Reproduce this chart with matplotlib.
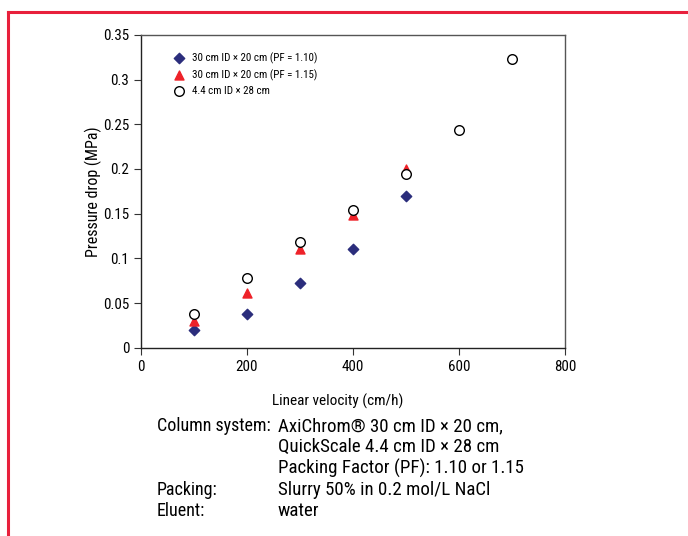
import numpy as np
import matplotlib.pyplot as plt
from matplotlib import font_manager
from matplotlib.lines import Line2D

# pick a narrow face if one is installed
names = {f.name for f in font_manager.fontManager.ttflist}
narrow = [n for n in ['Liberation Sans Narrow', 'DejaVu Sans Condensed', 'Roboto Condensed',
                      'Open Sans Condensed'] if n in names]
plt.rcParams['font.family'] = narrow + ['Liberation Sans', 'DejaVu Sans']
if not narrow:
    plt.rcParams['font.stretch'] = 'condensed'

# Data
vel_a = [100, 200, 300, 400, 500]
dp_pf110 = [0.020, 0.038, 0.073, 0.110, 0.170]
vel_b = [100, 200, 300, 400, 500]
dp_pf115 = [0.030, 0.061, 0.110, 0.149, 0.200]
vel_c = [100, 200, 300, 400, 500, 600, 700]
dp_small = [0.038, 0.078, 0.118, 0.154, 0.194, 0.244, 0.323]

labels = ["30 cm ID \u00d7 20 cm (PF = 1.10)",
          "30 cm ID \u00d7 20 cm (PF = 1.15)",
          "4.4 cm ID \u00d7 28 cm"]

fig = plt.figure(figsize=(6.88, 5.36), dpi=100)
ax = fig.add_axes([0.205, 0.351, 0.616, 0.584])

ax.scatter(vel_a, dp_pf110, marker='D', s=28, color='#2B2D7C', label=labels[0], zorder=3)
ax.scatter(vel_b, dp_pf115, marker='^', s=42, color='#EE2229', label=labels[1], zorder=3)
ax.scatter(vel_c, dp_small, marker='o', s=48, facecolors='white', edgecolors='black',
           linewidths=1.0, label=labels[2], zorder=4)

ax.set_xlim(0, 800)
ax.set_ylim(0, 0.35)
ax.set_xticks([0, 200, 400, 600, 800])
ax.set_yticks(np.arange(0, 0.351, 0.05))
ax.set_yticklabels(["0", "0.05", "0.1", "0.15", "0.2", "0.25", "0.3", "0.35"])
ax.tick_params(direction='out', length=5, labelsize=10.8, color='#333333')
for s in ax.spines.values():
    s.set_color('#555555')
    s.set_linewidth(1.0)
ax.spines['left'].set_color('#222222')
ax.spines['bottom'].set_color('#222222')

ax.set_xlabel("Linear velocity (cm/h)", fontsize=11)
ax.xaxis.set_label_coords(0.465, -0.145)
ax.set_ylabel("Pressure drop (MPa)", fontsize=11.5, labelpad=1)

ax.legend(loc='upper left', frameon=False, fontsize=7.9, handletextpad=0.7,
          borderaxespad=0.6, labelspacing=0.5, handlelength=1.0,
          bbox_to_anchor=(0.05, 0.98))

# Conditions text under the chart
keys = ["Column system:", "", "", "Packing:", "Eluent:"]
vals = ["AxiChrom\u00ae 30 cm ID \u00d7 20 cm,",
        "QuickScale 4.4 cm ID \u00d7 28 cm",
        "Packing Factor (PF): 1.10 or 1.15",
        "Slurry 50% in 0.2 mol/L NaCl",
        "water"]
y0 = 426
for i, (k, v) in enumerate(zip(keys, vals)):
    y = 1 - (y0 + i * 21.3) / 536
    fig.text(157 / 688, y, k, fontsize=13, va='center', ha='left')
    fig.text(278 / 688, y, v, fontsize=13.6, va='center', ha='left')

# Red frame around the panel
red = '#E8203C'
fig.add_artist(Line2D([8 / 688, 8 / 688], [0, 1 - 12 / 536], color=red, lw=2.2))
fig.add_artist(Line2D([8 / 688, 1], [1 - 12 / 536, 1 - 12 / 536], color=red, lw=2.2))

fig.savefig("out.png", dpi=100)
